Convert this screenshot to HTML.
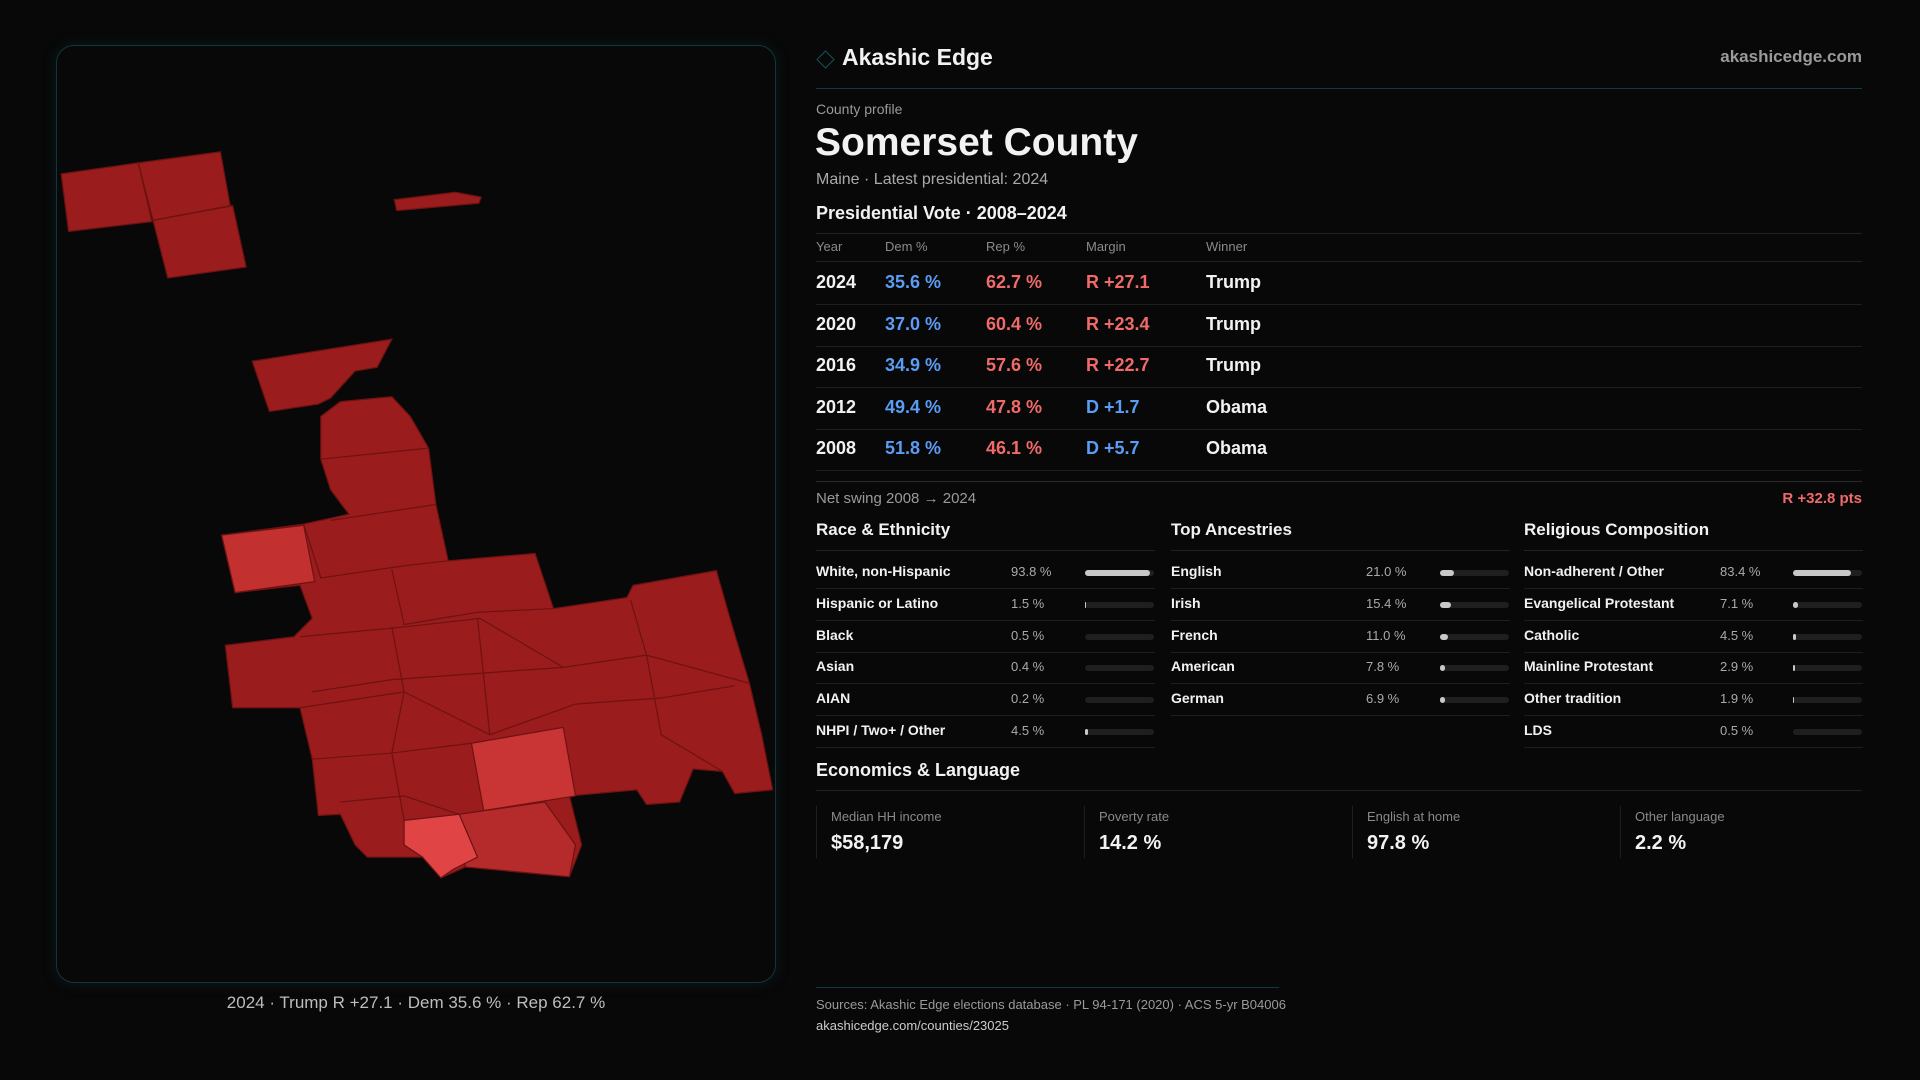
<!DOCTYPE html>
<html><head><meta charset="utf-8"><style>
body{margin:0;width:1920px;height:1080px;background:#080808;font-family:"Liberation Sans",sans-serif;color:#f2f2f2;position:relative;overflow:hidden}
.a{position:absolute;white-space:nowrap}
.ln{position:absolute;height:1px;background:#222}
.g{color:#9a9a9a}
</style></head><body>
<div class="a" style="left:56px;top:45px;width:718px;height:936px;border:1px solid #12363d;border-radius:18px;box-shadow:0 0 14px rgba(20,80,90,.25)"></div>
<svg class="a" style="left:0;top:0" width="1920" height="1080" viewBox="0 0 1568 882">
<g stroke="#6e1212" stroke-width="1" fill="#9b1c1c">
<polygon points="50,142 113,133 124,181 56,189"/>
<polygon points="113,133 180,124 188,168 125,180"/>
<polygon points="125,180 190,168 201,218 137,227"/>
<polygon points="322,163 372,157 393,161 391,166 324,172"/>
<polygon points="206,295 320,277 308,300 290,303 270,325 260,330 220,336"/>
<polygon points="262,340 278,328 320,324 335,340 350,366 356,412 366,458 437,452 452,497 512,488 517,478 585,466 597,508 612,558 622,600 631,645 600,648 590,630 566,628 555,655 528,657 520,645 465,650 475,690 465,716 380,708 360,717 352,700 300,700 290,690 278,665 260,666 255,620 245,578 190,578 184,527 240,520 255,505 245,478 192,484 181,437 248,428 285,420 270,400 262,375"/>
<polygon fill="#c23030" points="181,437 248,429 257,475 192,484"/>
<polygon fill="#c93434" points="385,607 460,594 470,650 395,662"/>
<polygon fill="#b52a2a" points="375,665 445,655 470,690 465,716 380,708"/>
<polygon fill="#e04444" points="330,670 375,665 390,700 370,710 360,717 345,700 330,690"/>
<polyline fill="none" points="262,375 350,366"/><polyline fill="none" points="270,425 356,412"/>
<polyline fill="none" points="248,428 262,472 330,462 366,458"/><polyline fill="none" points="320,465 330,510 390,500 452,497"/>
<polyline fill="none" points="245,520 330,512 392,505 460,545 528,535 612,558"/><polyline fill="none" points="255,565 320,555 390,550 460,545"/>
<polyline fill="none" points="245,578 330,565 400,600 470,575 540,570 600,560"/><polyline fill="none" points="255,620 320,615 385,607"/>
<polyline fill="none" points="515,490 528,535 540,600 590,630"/><polyline fill="none" points="390,505 400,600"/><polyline fill="none" points="320,512 330,565 320,615 330,670"/>
<polyline fill="none" points="278,655 330,650 375,665"/>
</g></svg>
<div class="a" style="left:56px;width:720px;top:993px;text-align:center;font-size:17px;color:#bdbdbd">2024 · Trump R +27.1 · Dem 35.6 % · Rep 62.7 %</div>

<div class="a" style="left:819px;top:53px;width:11px;height:11px;border:1.5px solid #15505a;transform:rotate(45deg)"></div>
<div class="a" style="left:842px;top:44px;font-size:23px;font-weight:bold">Akashic Edge</div>
<div class="a g" style="right:58px;top:47px;font-size:17px;font-weight:bold">akashicedge.com</div>
<div class="ln" style="left:816px;width:1046px;top:88px;background:#0f3a44"></div>
<div class="a g" style="left:816px;top:101px;font-size:14px">County profile</div>
<div class="a" style="left:815px;top:121px;font-size:39px;font-weight:bold">Somerset County</div>
<div class="a" style="left:816px;top:171px;font-size:16px;color:#aaa">Maine · Latest presidential: 2024</div>
<div class="a" style="left:816px;top:203px;font-size:18px;font-weight:bold">Presidential Vote · 2008–2024</div>
<div class="ln" style="left:816px;width:1046px;top:233px"></div>
<div id="vt"></div>
<div class="ln" style="left:816px;width:1046px;top:481px;background:#2a2a2a"></div>
<div class="a g" style="left:816px;top:490px;font-size:15px">Net swing 2008 → 2024</div>
<div class="a" style="right:58px;top:490px;font-size:15px;color:#f06a6a;font-weight:bold">R +32.8 pts</div>
<div id="panels"></div>
<div class="a" style="left:816px;top:760px;font-size:18px;font-weight:bold">Economics &amp; Language</div>
<div class="ln" style="left:816px;width:1046px;top:790px"></div>
<div id="econ"></div>
<div class="ln" style="left:816px;width:463px;top:987px;background:#0f3a44"></div>
<div class="a g" style="left:816px;top:997px;font-size:13px">Sources: Akashic Edge elections database · PL 94-171 (2020) · ACS 5-yr B04006</div>
<div class="a" style="left:816px;top:1018px;font-size:13px;color:#ccc">akashicedge.com/counties/23025</div>
<script>
const years=["2024","2020","2016","2012","2008"];
const demPct=[35.6,37.0,34.9,49.4,51.8];
const repPct=[62.7,60.4,57.6,47.8,46.1];
const margins=["R +27.1","R +23.4","R +22.7","D +1.7","D +5.7"];
const winners=["Trump","Trump","Trump","Obama","Obama"];
const raceLabels=["White, non-Hispanic","Hispanic or Latino","Black","Asian","AIAN","NHPI / Two+ / Other"];
const raceVals=[93.8,1.5,0.5,0.4,0.2,4.5];
const ancLabels=["English","Irish","French","American","German"];
const ancVals=[21.0,15.4,11.0,7.8,6.9];
const relLabels=["Non-adherent / Other","Evangelical Protestant","Catholic","Mainline Protestant","Other tradition","LDS"];
const relVals=[83.4,7.1,4.5,2.9,1.9,0.5];
const econLabels=["Median HH income","Poverty rate","English at home","Other language"];
const econVals=["$58,179","14.2 %","97.8 %","2.2 %"];
function mk(parent,css,txt){const d=document.createElement('div');d.className='a';d.style.cssText=css;if(txt!==undefined)d.textContent=txt;parent.appendChild(d);return d;}
const vt=document.getElementById('vt');
const cols=[816,885,986,1086,1206];
["Year","Dem %","Rep %","Margin","Winner"].forEach((h,i)=>{const e=mk(vt,`left:${cols[i]}px;top:239px;font-size:13px;color:#8a8a8a`,h);

});
mk(vt,'left:816px;width:1046px;top:261px;height:1px;background:#222');
years.forEach((y,i)=>{const top=272+i*41.6;
const row=mk(vt,`left:0;top:0`);


const f='font-size:18px;font-weight:bold;top:'+top+'px;';
mk(row,f+`left:${cols[0]}px`,y);
mk(row,f+`left:${cols[1]}px;color:#5b9cf5`,demPct[i].toFixed(1)+' %');
mk(row,f+`left:${cols[2]}px;color:#f06a6a`,repPct[i].toFixed(1)+' %');
mk(row,f+`left:${cols[3]}px;color:${margins[i][0]==='R'?'#f06a6a':'#5b9cf5'}`,margins[i]);
mk(row,f+`left:${cols[4]}px`,winners[i]);
mk(vt,`left:816px;width:1046px;top:${304+i*41.6}px;height:1px;background:#1e1e1e`);});
const P=document.getElementById('panels');
function panel(x,title,labels,vals,valX,barX){const t=mk(P,`left:${x}px;top:520px;font-size:17px;font-weight:bold`,title);


const w=barX+70-x;mk(P,`left:${x}px;width:${w}px;top:550px;height:1px;background:#222`);
labels.forEach((l,i)=>{const top=563+i*31.8;
const a=mk(P,`left:${x}px;top:${top}px;font-size:14px;font-weight:bold`,l);


mk(P,`left:${valX}px;top:${top+1}px;font-size:13px;color:#aaa`,vals[i].toFixed(1)+' %');
const tr=mk(P,`left:${barX}px;top:${top+7}px;width:69px;height:6px;border-radius:3px;background:#1f1f1f`);


const bw=69*vals[i]/100;
const b=mk(P,`left:${barX}px;top:${top+7}px;width:${bw}px;height:6px;border-radius:3px;background:#c8c8c8;display:${bw<1?'none':'block'}`);


mk(P,`left:${x}px;width:${w}px;top:${top+25}px;height:1px;background:#1e1e1e`);});}
panel(816,"Race & Ethnicity",raceLabels,raceVals,1011,1085);
panel(1171,"Top Ancestries",ancLabels,ancVals,1366,1440);
panel(1524,"Religious Composition",relLabels,relVals,1720,1793);
const E=document.getElementById('econ');
econLabels.forEach((l,i)=>{const x=816+i*268;
mk(E,`left:${x}px;top:806px;height:52px;width:1px;background:#1e1e1e`);
const a=mk(E,`left:${x+15}px;top:809px;font-size:13px;color:#8a8a8a`,l);


const v=mk(E,`left:${x+15}px;top:832px;font-size:20px;font-weight:bold`,econVals[i]);

});
</script>
</body></html>
